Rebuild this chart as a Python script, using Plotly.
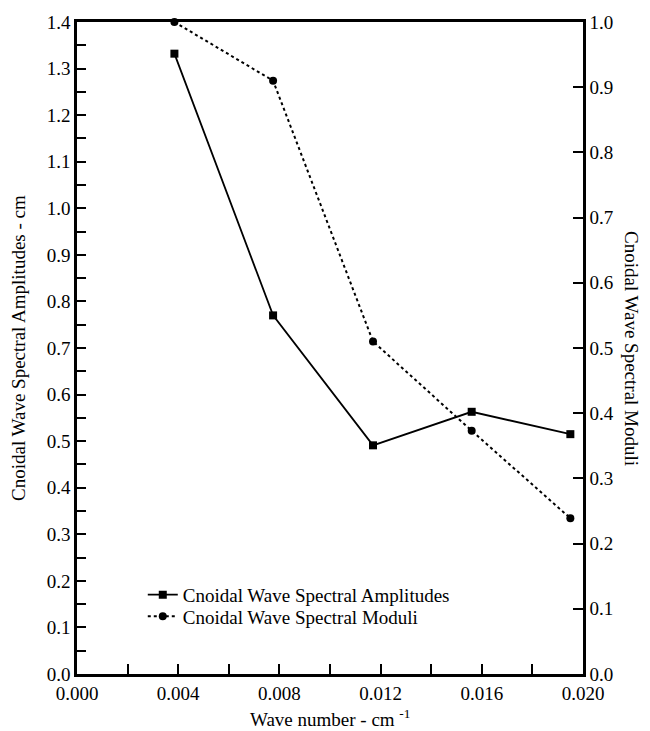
import plotly.graph_objects as go

wave_number = [0.00385, 0.00775, 0.0117, 0.0156, 0.0195]
amplitudes = [1.332, 0.770, 0.491, 0.563, 0.515]
moduli = [1.0, 0.910, 0.510, 0.373, 0.239]

FONT = "Liberation Serif"
FS = 19

fig = go.Figure()
fig.add_trace(go.Scatter(
    x=wave_number, y=amplitudes, mode="lines+markers",
    name="Cnoidal Wave Spectral Amplitudes",
    line=dict(color="black", width=1.8),
    marker=dict(symbol="square", size=8, color="black"),
    legend="legend", showlegend=True, cliponaxis=False,
))
fig.add_trace(go.Scatter(
    x=wave_number, y=moduli, mode="lines+markers",
    name="Cnoidal Wave Spectral Moduli",
    line=dict(color="black", width=2, dash="dot"),
    marker=dict(symbol="circle", size=8, color="black"),
    yaxis="y2", legend="legend2", showlegend=True, cliponaxis=False,
))

axis_common = dict(
    showgrid=False, zeroline=False, showline=True, linecolor="black",
    linewidth=2.5, ticks="inside", tickcolor="black", tickwidth=2,
    tickfont=dict(family=FONT, size=FS, color="black"),
)

fig.update_layout(
    width=650, height=731,
    margin=dict(l=77, r=67, t=18, b=57),
    paper_bgcolor="white", plot_bgcolor="white",
    font=dict(family=FONT, size=FS, color="black"),
    showlegend=True,
    xaxis=dict(
        range=[0, 0.02], dtick=0.004, tick0=0, tickformat=".3f",
        ticklen=10, mirror=True,
        minor=dict(dtick=0.002, ticks="inside", ticklen=10, tickwidth=2, tickcolor="black"),
        **axis_common,
    ),
    yaxis=dict(
        range=[0, 1.4], dtick=0.1, tick0=0, tickformat=".1f", ticklen=9,
        minor=dict(dtick=0.05, ticks="inside", ticklen=9, tickwidth=2, tickcolor="black"),
        **axis_common,
    ),
    yaxis2=dict(
        range=[0, 1.0], dtick=0.1, tick0=0, tickformat=".1f", ticklen=10,
        overlaying="y", side="right",
        **axis_common,
    ),
    legend=dict(
        x=0.130, y=0.1215, xanchor="left", yanchor="middle",
        bgcolor="rgba(0,0,0,0)", itemwidth=30,
        font=dict(family=FONT, size=FS, color="black"),
    ),
    legend2=dict(
        x=0.130, y=0.0885, xanchor="left", yanchor="middle",
        bgcolor="rgba(0,0,0,0)", itemwidth=30,
        font=dict(family=FONT, size=FS, color="black"),
    ),
    annotations=[
        dict(text="Cnoidal Wave Spectral Amplitudes - cm", xref="paper", yref="paper",
             x=0, y=0.5, xshift=-59, textangle=-90, showarrow=False,
             xanchor="center", yanchor="middle",
             font=dict(family=FONT, size=FS, color="black")),
        dict(text="Cnoidal Wave Spectral Moduli", xref="paper", yref="paper",
             x=1, y=0.5, xshift=49, textangle=90, showarrow=False,
             xanchor="center", yanchor="middle",
             font=dict(family=FONT, size=FS, color="black")),
        dict(text="Wave number - cm <sup>-1</sup>", xref="paper", yref="paper",
             x=0.5, y=0, yshift=-44, showarrow=False,
             xanchor="center", yanchor="middle",
             font=dict(family=FONT, size=FS, color="black")),
    ],
)

fig.write_html("out.html")
